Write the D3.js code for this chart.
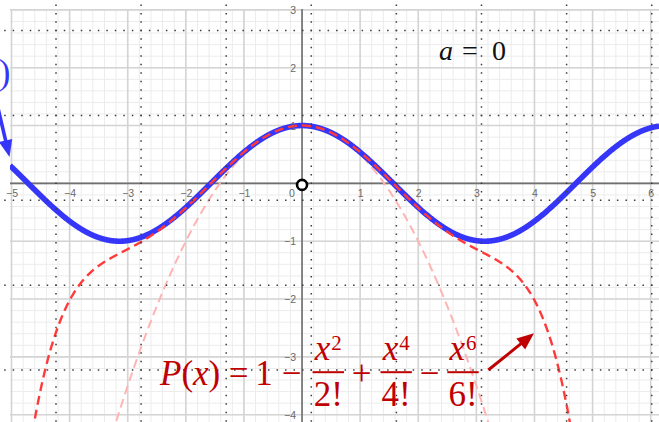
<!DOCTYPE html>
<html>
<head>
<meta charset="utf-8">
<script src="https://cdn.jsdelivr.net/npm/d3@7"></script>
<style>
  html, body { margin: 0; padding: 0; background: #fff; }
  svg { display: block; }
  .tick-label { font-family: "Liberation Sans", Arial, sans-serif; font-size: 10.5px; fill: #6a6a6a; }
  .math { font-family: "Liberation Serif", "Times New Roman", serif; }
</style>
</head>
<body>
<svg id="chart" width="659" height="422"></svg>
<script>
// Axis ticks
const xTicks = [-5, -4, -3, -2, -1, 1, 2, 3, 4, 5, 6];
const yTicks = [-4, -3, -2, -1, 1, 2, 3];

// Maclaurin coefficients of cos x: P(x) = 1 - x^2/2! + x^4/4! - x^6/6!
const sixthOrderCoefficients = [1, 0, -1 / 2, 0, 1 / 24, 0, -1 / 720];
// second-order approximation 1 - x^2/2!
const secondOrderCoefficients = [1, 0, -1 / 2];
// expansion point a = 0
const expansionPoint = [{ x: 0, y: 0 }];

const W = 659, H = 422;
const view = { left: 10, top: 9, right: 659, bottom: 422 };

const svg = d3.select("#chart");

const x = d3.scaleLinear().domain([-5, 6]).range([11.5, 650.7]);
const y = d3.scaleLinear().domain([3, -4]).range([9.9, 414.7]);

const xMin = x.invert(view.left), xMax = x.invert(view.right);
const yMax = y.invert(view.top), yMin = y.invert(view.bottom);

const poly = coeffs => t => coeffs.reduce((s, c, i) => s + c * Math.pow(t, i), 0);

svg.append("defs").append("clipPath").attr("id", "view")
  .append("rect")
  .attr("x", view.left).attr("y", view.top)
  .attr("width", view.right - view.left).attr("height", view.bottom - view.top);

const plot = svg.append("g").attr("clip-path", "url(#view)");

// minor grid (0.2 units)
const minorX = d3.range(Math.ceil(xMin * 5), Math.floor(xMax * 5) + 1).map(k => k / 5);
const minorY = d3.range(Math.ceil(yMin * 5), Math.floor(yMax * 5) + 1).map(k => k / 5);
plot.append("g").selectAll("line").data(minorX).join("line")
  .attr("x1", d => x(d)).attr("x2", d => x(d))
  .attr("y1", view.top).attr("y2", view.bottom)
  .attr("stroke", "#ececec").attr("stroke-width", 1);
plot.append("g").selectAll("line").data(minorY).join("line")
  .attr("y1", d => y(d)).attr("y2", d => y(d))
  .attr("x1", view.left).attr("x2", view.right)
  .attr("stroke", "#ececec").attr("stroke-width", 1);

// major grid (1 unit)
const majorX = d3.range(Math.ceil(xMin), Math.floor(xMax) + 1);
const majorY = d3.range(Math.ceil(yMin), Math.floor(yMax) + 1);
plot.append("g").selectAll("line").data(majorX).join("line")
  .attr("x1", d => x(d)).attr("x2", d => x(d))
  .attr("y1", view.top).attr("y2", view.bottom)
  .attr("stroke", "#d4d4d4").attr("stroke-width", 1.6);
plot.append("g").selectAll("line").data(majorY).join("line")
  .attr("y1", d => y(d)).attr("y2", d => y(d))
  .attr("x1", view.left).attr("x2", view.right)
  .attr("stroke", "#d4d4d4").attr("stroke-width", 1.6);

// dotted page grid
const dotStepX = 8.51, dotStepY = 8.485;
const dotCols = d3.range(8).map(k => 56 + k * dotStepX * 10);
const dotRows = d3.range(5).map(k => 30.6 + k * dotStepY * 10);
const dots = svg.append("g").attr("stroke", "#3c3c3c").attr("stroke-width", 1.5);
dots.selectAll(".dv").data(dotCols).join("line").attr("class", "dv")
  .attr("x1", d => d).attr("x2", d => d)
  .attr("y1", 30.6 - dotStepY * 4 - 0.75).attr("y2", H + 5)
  .attr("stroke-dasharray", `1.5 ${dotStepY - 1.5}`);
dots.selectAll(".dh").data(dotRows).join("line").attr("class", "dh")
  .attr("y1", d => d).attr("y2", d => d)
  .attr("x1", 56 - dotStepX * 7 - 0.75).attr("x2", W + 5)
  .attr("stroke-dasharray", `1.5 ${dotStepX - 1.5}`);

// axes lines
plot.append("line").attr("x1", view.left).attr("x2", view.right)
  .attr("y1", y(0)).attr("y2", y(0)).attr("stroke", "#707070").attr("stroke-width", 1.6);
plot.append("line").attr("x1", x(0)).attr("x2", x(0))
  .attr("y1", view.top).attr("y2", view.bottom).attr("stroke", "#707070").attr("stroke-width", 1.6);

// tick labels via d3 axes
const fmt = d3.format("");
const xAxis = svg.append("g").attr("transform", `translate(0,${y(0)})`)
  .call(d3.axisBottom(x).tickValues(xTicks).tickSize(0).tickFormat(fmt));
xAxis.select(".domain").remove();
xAxis.selectAll("text").attr("class", "tick-label").attr("y", 13.8).attr("dy", 0)
  .attr("fill", null).attr("font-size", null).attr("font-family", null);

const yAxis = svg.append("g").attr("transform", `translate(${x(0)},0)`)
  .call(d3.axisLeft(y).tickValues(yTicks).tickSize(0).tickFormat(fmt));
yAxis.select(".domain").remove();
yAxis.selectAll("text").attr("class", "tick-label").attr("x", -6).attr("dy", "0.35em")
  .attr("fill", null).attr("font-size", null).attr("font-family", null);

svg.append("text").attr("class", "tick-label")
  .attr("x", x(0) - 10).attr("y", y(0) + 13.8).attr("text-anchor", "middle").text("0");

// curves
const samples = d3.range(xMin, xMax + 0.005, 0.005);
const line = f => d3.line().x(d => x(d)).y(d => y(Math.max(-40, Math.min(40, f(d)))));

plot.append("path").datum(samples)
  .attr("d", line(poly(secondOrderCoefficients)))
  .attr("fill", "none").attr("stroke", "#ffb4b4").attr("stroke-width", 2)
  .attr("stroke-dasharray", "9 5");

plot.append("path").datum(samples)
  .attr("d", line(Math.cos))
  .attr("fill", "none").attr("stroke", "#3636f8").attr("stroke-width", 5.6)
  .attr("stroke-linejoin", "round");

plot.append("path").datum(samples)
  .attr("d", line(poly(sixthOrderCoefficients)))
  .attr("fill", "none").attr("stroke", "#ff3a3a").attr("stroke-width", 2.4)
  .attr("stroke-dasharray", "9 5");

// expansion point
svg.selectAll(".pt").data(expansionPoint).join("circle").attr("class", "pt")
  .attr("cx", d => x(d.x)).attr("cy", d => y(d.y) + 1.5).attr("r", 5)
  .attr("fill", "#fff").attr("stroke", "#000").attr("stroke-width", 2.6);

// "a = 0"
const aLabel = svg.append("g").attr("class", "math").attr("font-size", 28).attr("fill", "#111");
aLabel.append("text").attr("x", 439).attr("y", 60).attr("font-style", "italic").text("a");
aLabel.append("text").attr("x", 470).attr("y", 60).attr("text-anchor", "middle").text("=");
aLabel.append("text").attr("x", 499).attr("y", 60).attr("text-anchor", "middle").text("0");

// closing bracket of the cosine label at the left edge, with its arrow
const blue = "#3636f8";
svg.append("text").attr("class", "math").attr("font-size", 35).attr("fill", blue)
  .attr("x", 10.5).attr("y", 84).attr("text-anchor", "end")
  .text(")");

function arrow(from, to, color, width, headLen, headHalf) {
  const dx = to[0] - from[0], dy = to[1] - from[1];
  const len = Math.hypot(dx, dy), ux = dx / len, uy = dy / len;
  const bx = to[0] - ux * headLen, by = to[1] - uy * headLen;
  svg.append("line").attr("x1", from[0]).attr("y1", from[1])
    .attr("x2", bx + ux * 2).attr("y2", by + uy * 2)
    .attr("stroke", color).attr("stroke-width", width);
  svg.append("path")
    .attr("d", `M${to[0]},${to[1]}L${bx - uy * headHalf},${by + ux * headHalf}L${bx + uy * headHalf},${by - ux * headHalf}Z`)
    .attr("fill", color);
}
arrow([-2, 108], [9.5, 157], blue, 3.6, 17, 6.8);

// Taylor polynomial label
const red = "#c00000";
const eq = svg.append("g").attr("class", "math").attr("fill", red).attr("font-size", 35);
const base = 385;
eq.append("text").attr("x", 160).attr("y", base)
  .html('<tspan font-style="italic">P</tspan>(<tspan font-style="italic">x</tspan>)');
eq.append("text").attr("x", 238.5).attr("y", base).attr("text-anchor", "middle").text("=");
eq.append("text").attr("x", 264).attr("y", base).attr("text-anchor", "middle").text("1");

const signs = [{ cx: 291.5, s: "\u2212" }, { cx: 361.5, s: "+" }, { cx: 429.7, s: "\u2212" }];
eq.selectAll(".sign").data(signs).join("text").attr("class", "sign")
  .attr("x", d => d.cx).attr("y", base).attr("text-anchor", "middle").text(d => d.s);

const fractions = [{ cx: 328.3, p: 2 }, { cx: 396.2, p: 4 }, { cx: 463, p: 6 }];
const fr = eq.selectAll(".frac").data(fractions).join("g").attr("class", "frac");
fr.append("rect").attr("x", d => d.cx - 15.7).attr("y", 371.2).attr("width", 31.4).attr("height", 2);
fr.append("text").attr("x", d => d.cx).attr("y", 360).attr("text-anchor", "middle")
  .html(d => `<tspan font-style="italic">x</tspan><tspan font-size="21" dx="1" dy="-10">${d.p}</tspan>`);
fr.append("text").attr("x", d => d.cx).attr("y", 406).attr("text-anchor", "middle")
  .text(d => `${d.p}!`);

arrow([488.3, 370], [534, 333.3], red, 3, 17, 7);
</script>
</body>
</html>
